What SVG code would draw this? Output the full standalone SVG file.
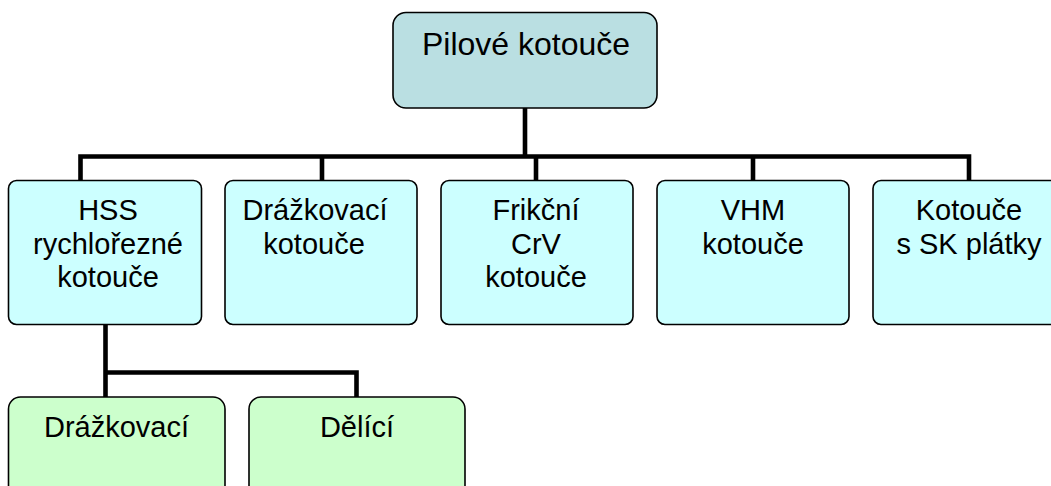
<svg xmlns="http://www.w3.org/2000/svg" width="1051" height="486" viewBox="0 0 1051 486">
<style>
.box{stroke:#000;stroke-width:1.6}
.root{fill:#badfe2}
.l2{fill:#ccffff}
.l3{fill:#ccffcc}
.conn{fill:none;stroke:#000;stroke-width:4.6;stroke-linecap:butt;stroke-linejoin:miter}
text{font-family:"Liberation Sans",Arial,sans-serif;fill:#000;text-anchor:middle}
.t1{font-size:32px}
.t2{font-size:29px}
</style>
<rect width="1051" height="486" fill="#fff"/>
<g id="connectors">
<path class="conn" d="M525,108 V156.5 M80.5,181 V156.5 H969 V181 M322,156.5 V181 M536,156.5 V181 M753,156.5 V181"/>
<path class="conn" d="M105.5,324 V372.5 M105.5,397 V372.5 H356.5 V397"/>
</g>
<g id="node-root">
<rect class="box root" x="393" y="12.5" width="264" height="95.5" rx="13"/>
<text class="t1" x="526" y="55">Pilové kotouče</text>
</g>
<g id="node-hss">
<rect class="box l2" x="8.5" y="180.5" width="193" height="144" rx="8"/>
<text class="t2" x="108" y="220">HSS</text>
<text class="t2" x="108" y="253.5">rychlořezné</text>
<text class="t2" x="108" y="287">kotouče</text>
</g>
<g id="node-drazkovaci-kotouce">
<rect class="box l2" x="225" y="180.5" width="192" height="144" rx="8"/>
<text class="t2" x="315" y="220">Drážkovací</text>
<text class="t2" x="314" y="253.5">kotouče</text>
</g>
<g id="node-frikcni">
<rect class="box l2" x="441" y="180.5" width="192" height="144" rx="8"/>
<text class="t2" x="536" y="220">Frikční</text>
<text class="t2" x="536" y="253.5">CrV</text>
<text class="t2" x="536" y="287">kotouče</text>
</g>
<g id="node-vhm">
<rect class="box l2" x="657" y="180.5" width="192" height="144" rx="8"/>
<text class="t2" x="753" y="220">VHM</text>
<text class="t2" x="753" y="253.5">kotouče</text>
</g>
<g id="node-sk">
<rect class="box l2" x="873" y="180.5" width="192" height="144" rx="8"/>
<text class="t2" x="969" y="220">Kotouče</text>
<text class="t2" x="969" y="253.5">s SK plátky</text>
</g>
<g id="node-drazkovaci">
<rect class="box l3" x="8.5" y="397" width="216.5" height="110" rx="12"/>
<text class="t2" x="116.5" y="437">Drážkovací</text>
</g>
<g id="node-delici">
<rect class="box l3" x="249" y="397" width="216" height="110" rx="12"/>
<text class="t2" x="357" y="437">Dělící</text>
</g>
</svg>
